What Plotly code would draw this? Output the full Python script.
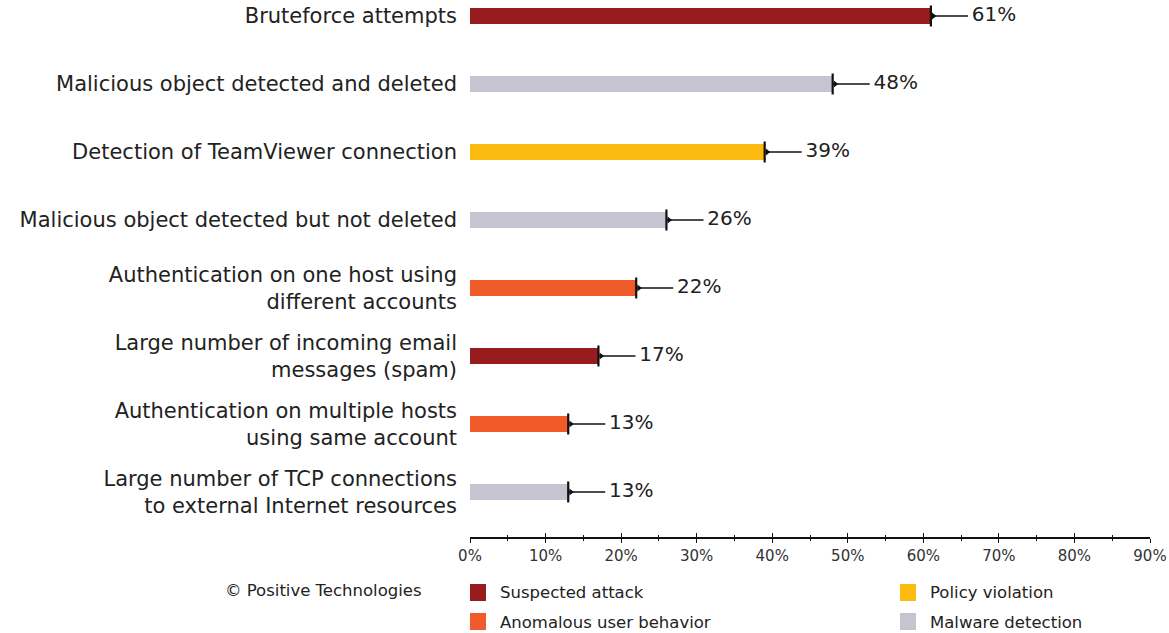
import plotly.graph_objects as go

categories = [
    "Bruteforce attempts",
    "Malicious object detected and deleted",
    "Detection of TeamViewer connection",
    "Malicious object detected but not deleted",
    "Authentication on one host using<br>different accounts",
    "Large number of incoming email<br>messages (spam)",
    "Authentication on multiple hosts<br>using same account",
    "Large number of TCP connections<br>to external Internet resources",
]
values = [61, 48, 39, 26, 22, 17, 13, 13]
types = ["Suspected attack", "Malware detection", "Policy violation", "Malware detection",
         "Anomalous user behavior", "Suspected attack", "Anomalous user behavior", "Malware detection"]

legend_names = ["Suspected attack", "Anomalous user behavior", "Policy violation", "Malware detection"]
type_colors = {
    "Suspected attack": "#981B1E",
    "Anomalous user behavior": "#F15A29",
    "Policy violation": "#FBBA10",
    "Malware detection": "#C8C3D0",
}
x_ticks = list(range(0, 91, 10))
x_ticktext = [f"{t}%" for t in x_ticks]

FONT = "DejaVu Sans"
TXT = "#222222"
LEAD = 4.9  # length of leader line in axis units

pos = list(range(len(categories)))

fig = go.Figure()
fig.add_trace(go.Bar(
    x=values, y=pos, orientation="h",
    marker=dict(color=[type_colors[t] for t in types], line=dict(width=0)),
    width=0.235,
    error_x=dict(type="data", symmetric=False, array=[LEAD] * len(values),
                 arrayminus=[0] * len(values), color="#111111", thickness=1.3, width=0),
    showlegend=False, hoverinfo="skip",
))
fig.add_trace(go.Scatter(
    x=values, y=pos, mode="markers",
    marker=dict(symbol="line-ns", size=15, line=dict(width=2.2, color="#111111")),
    showlegend=False, hoverinfo="skip",
))
fig.add_trace(go.Scatter(
    x=[v + 0.35 for v in values], y=pos, mode="markers",
    marker=dict(symbol="triangle-right", size=6, color="#111111"),
    showlegend=False, hoverinfo="skip",
))
fig.add_trace(go.Scatter(
    x=[v + LEAD + 0.5 for v in values], y=pos, mode="text",
    text=[f"{v}%" for v in values], textposition="middle right",
    textfont=dict(family=FONT, size=20, color=TXT),
    showlegend=False, hoverinfo="skip", cliponaxis=False,
))

fig.update_layout(
    width=1169, height=633,
    margin=dict(l=470, r=19, t=0, b=96),
    plot_bgcolor="white", paper_bgcolor="white",
    font=dict(family=FONT, color=TXT),
    xaxis=dict(
        range=[0, 90], tickvals=x_ticks, ticktext=x_ticktext,
        ticks="outside", ticklen=4, tickwidth=1.3, tickcolor="#111111",
        minor=dict(tickvals=[5, 15, 25, 35, 45, 55, 65, 75, 85], ticks="outside", ticklen=2,
                   tickwidth=1, tickcolor="#111111"),
        showline=True, linecolor="#111111", linewidth=1.5,
        showgrid=False, zeroline=False,
        tickfont=dict(family=FONT, size=15, color="#333333"),
    ),
    xaxis2=dict(
        range=[0, 90], overlaying="x", anchor="y", side="bottom",
        tickvals=x_ticks, showticklabels=False,
        ticks="inside", ticklen=4, tickwidth=1.3, tickcolor="#111111",
        minor=dict(tickvals=[5, 15, 25, 35, 45, 55, 65, 75, 85], ticks="inside", ticklen=2,
                   tickwidth=1, tickcolor="#111111"),
        showgrid=False, zeroline=False, showline=False,
    ),
    yaxis=dict(
        range=[7.662, -0.235], tickvals=pos, ticktext=categories,
        ticks="", showgrid=False, zeroline=False, showline=False,
        ticklabelstandoff=12,
        tickfont=dict(family=FONT, size=21, color=TXT),
    ),
)
fig.add_trace(go.Scatter(x=[0], y=[0], xaxis="x2", mode="markers",
                         marker=dict(opacity=0), showlegend=False, hoverinfo="skip"))

legend_pos = {
    "Suspected attack": (470, 593),
    "Anomalous user behavior": (470, 622),
    "Policy violation": (900, 593),
    "Malware detection": (900, 622),
}
for name in legend_names:
    px, py = legend_pos[name]
    fig.add_shape(type="rect", xref="paper", yref="paper",
                  x0=(px - 470) / 680, x1=(px - 470 + 16) / 680,
                  y0=(537 - (py + 8)) / 537, y1=(537 - (py - 9)) / 537,
                  fillcolor=type_colors[name], line=dict(width=0))
    fig.add_annotation(xref="paper", yref="paper", x=(px - 470 + 28) / 680, y=(537 - py) / 537,
                       text=name, showarrow=False, xanchor="left", yanchor="middle",
                       font=dict(family=FONT, size=16.5, color=TXT))

fig.add_annotation(xref="paper", yref="paper", x=(424 - 470) / 680, y=(537 - 590) / 537,
                   text="© Positive Technologies", showarrow=False, xanchor="right", yanchor="middle",
                   font=dict(family=FONT, size=16.5, color=TXT))

fig.write_html("out.html", config={"displayModeBar": False},
               post_script="document.body.style.margin='0';document.body.style.padding='0';")
